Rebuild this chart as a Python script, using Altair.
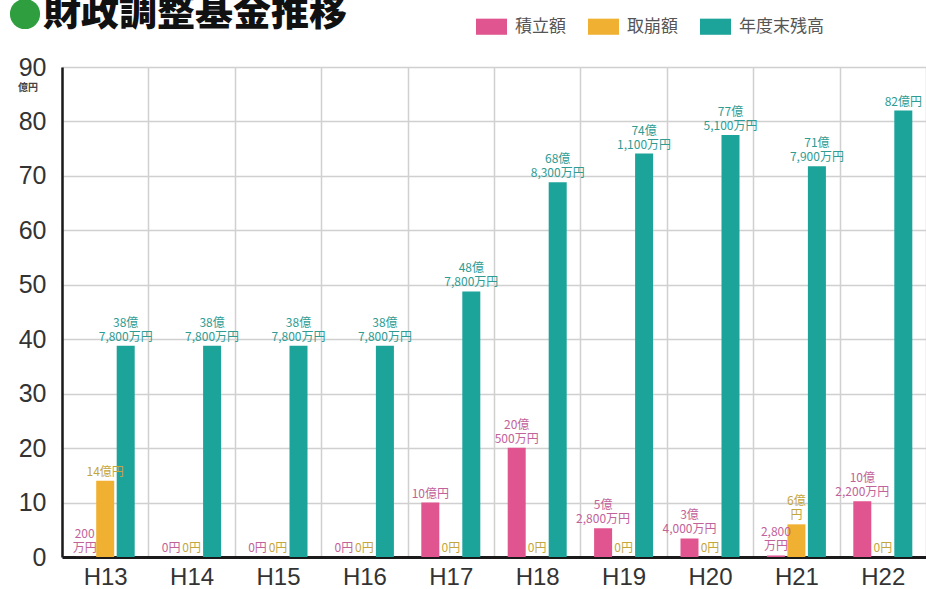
import altair as alt
import pandas as pd

years = ["H13", "H14", "H15", "H16", "H17", "H18", "H19", "H20", "H21", "H22"]
series = ["積立額", "取崩額", "年度末残高"]

# values in 億円
tsumitate = [0.02, 0, 0, 0, 10.0, 20.05, 5.28, 3.40, 0.28, 10.22]
torikuzushi = [14.0, 0, 0, 0, 0, 0, 0, 0, 6.0, 0]
zandaka = [38.78, 38.78, 38.78, 38.78, 48.78, 68.83, 74.11, 77.51, 71.79, 82.0]

# labels: upper line / lower line
tsumitate_top = ["200", "", "", "", "", "20億", "5億", "3億", "2,800", "10億"]
tsumitate_bot = ["万円", "0円", "0円", "0円", "10億円", "500万円", "2,800万円",
                 "4,000万円", "万円", "2,200万円"]
torikuzushi_top = ["", "", "", "", "", "", "", "", "6億", ""]
torikuzushi_bot = ["14億円", "0円", "0円", "0円", "0円", "0円", "0円", "0円", "円", "0円"]
zandaka_top = ["38億", "38億", "38億", "38億", "48億", "68億", "74億", "77億", "71億", ""]
zandaka_bot = ["7,800万円", "7,800万円", "7,800万円", "7,800万円", "7,800万円",
               "8,300万円", "1,100万円", "5,100万円", "7,900万円", "82億円"]

bar_colors = ["#e0558f", "#f0b133", "#1ca49a"]
label_colors = ["#c2629a", "#c4a63e", "#2e9c93"]

rows = []
for vals, tops, bots, s in [(tsumitate, tsumitate_top, tsumitate_bot, series[0]),
                            (torikuzushi, torikuzushi_top, torikuzushi_bot, series[1]),
                            (zandaka, zandaka_top, zandaka_bot, series[2])]:
    for yr, v, t, b in zip(years, vals, tops, bots):
        rows.append({"year": yr, "series": s, "value": v, "top": t, "bot": b})
df = pd.DataFrame(rows)

x_enc = alt.X("year:N", sort=years,
              scale=alt.Scale(paddingInner=0, paddingOuter=0),
              axis=alt.Axis(title=None, labelAngle=0, tickBand="extent", grid=True,
                            ticks=False, domain=True, domainColor="#1a1a1a", domainWidth=3,
                            labelFontSize=24, labelColor="#333333", labelFont="Liberation Sans",
                            labelPadding=8, gridColor="#d0d0d0", gridWidth=1.5))
xo_enc = alt.XOffset("series:N", sort=series,
                     scale=alt.Scale(domain=series, paddingInner=0.122, paddingOuter=0.668))
y_enc = alt.Y("value:Q",
              scale=alt.Scale(domain=[0, 90], nice=False),
              axis=alt.Axis(title=None, values=list(range(0, 91, 10)), grid=True, ticks=False,
                            domain=True, domainColor="#1a1a1a", domainWidth=2.5,
                            labelFontSize=25, labelColor="#333333", labelFont="Liberation Sans",
                            labelPadding=16, gridColor="#d0d0d0", gridWidth=1.5))

base = alt.Chart(df)

bars = base.mark_bar().encode(
    x=x_enc, xOffset=xo_enc, y=y_enc,
    color=alt.Color("series:N", sort=series,
                    scale=alt.Scale(domain=series, range=bar_colors),
                    legend=alt.Legend(title=None, orient="none", direction="horizontal",
                                      legendX=414, legendY=-56,
                                      symbolType="M-1,-0.52H1V0.52H-1Z", symbolSize=961,
                                      symbolStrokeWidth=0, labelFontSize=17,
                                      labelFont="Noto Sans CJK JP", labelColor="#555555",
                                      labelOffset=8, columnPadding=22)),
)

texts = []
for s, c in zip(series, label_colors):
    for field, dy in [("bot", -2), ("top", -16)]:
        texts.append(
            base.transform_filter(alt.datum.series == s)
            .mark_text(baseline="bottom", dy=dy, fontSize=12,
                       font="Noto Sans CJK JP", color=c)
            .encode(x=x_enc, xOffset=xo_enc, y=y_enc, text=f"{field}:N")
        )

deco = pd.DataFrame({"t": ["財政調整基金推移"], "u": ["億円"]})
circle = alt.Chart(deco).mark_circle(color="#2e9e3e", opacity=1, size=908).encode(
    x=alt.value(-37), y=alt.value(-53))
title = alt.Chart(deco).mark_text(align="left", baseline="alphabetic", fontSize=38,
                                  fontWeight=900, font="Noto Sans CJK JP",
                                  color="#111111").encode(
    x=alt.value(-19), y=alt.value(-42), text="t:N")
unit = alt.Chart(deco).mark_text(align="center", baseline="middle", fontSize=10,
                                 fontWeight="bold", font="Noto Sans CJK JP",
                                 color="#444444").encode(
    x=alt.value(-34), y=alt.value(21), text="u:N")

chart = alt.layer(bars, *texts, circle, title, unit).properties(
    width=864, height=490,
    autosize=alt.AutoSizeParams(type="none"),
    padding={"left": 62, "top": 67, "right": 0, "bottom": 32},
    background="white",
).configure_view(stroke=None)

chart.save("out.html", embed_options={"renderer": "svg", "actions": False})
